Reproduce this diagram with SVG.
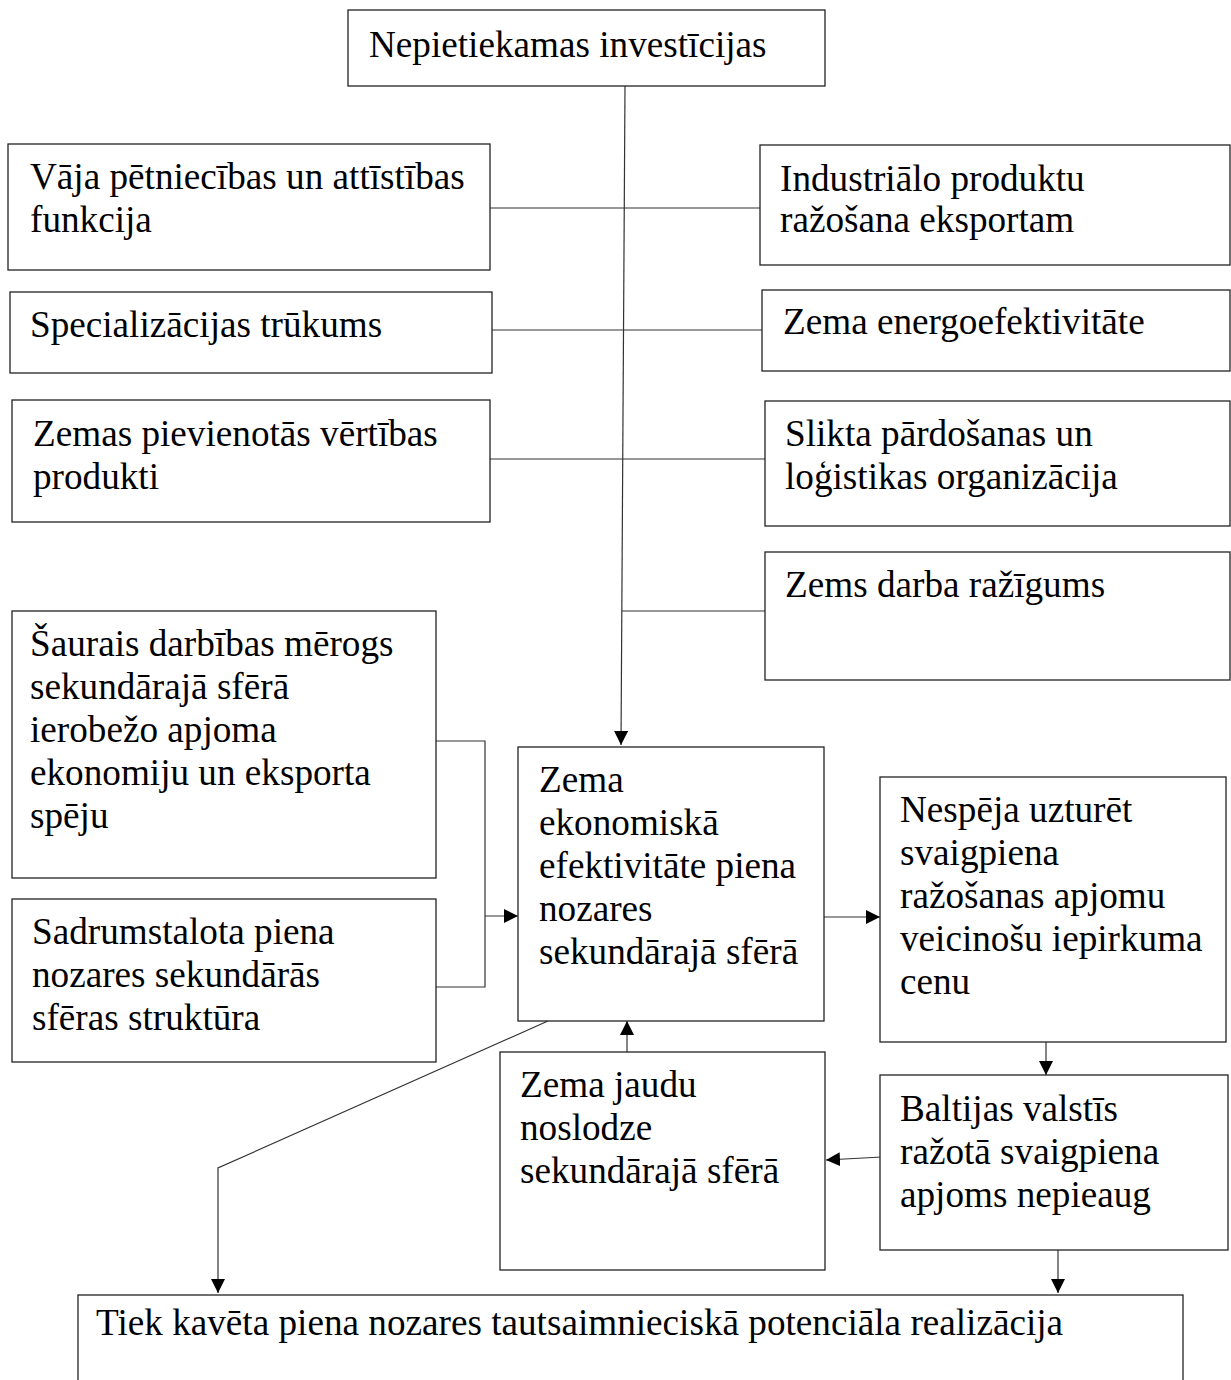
<svg xmlns="http://www.w3.org/2000/svg" width="1231" height="1380" viewBox="0 0 1231 1380">
<style>
.box{fill:#fff;stroke:#222;stroke-width:1.3}
.t{font-family:"Liberation Serif","Times New Roman",serif;font-size:37.2px;fill:#000}
.c{fill:none;stroke:#333;stroke-width:1.2}
</style>
<defs>
<marker id="ah" markerUnits="userSpaceOnUse" markerWidth="15" markerHeight="15" refX="14" refY="7" orient="auto">
<path d="M0,0 L14,7 L0,14 Z" fill="#000"/>
</marker>
</defs>
<rect width="1231" height="1380" fill="#fff"/>
<g id="connectors">
<path class="c" d="M625,86 L621,745" marker-end="url(#ah)"/>
<path class="c" d="M490,208 L760,208"/>
<path class="c" d="M492,330 L762,330"/>
<path class="c" d="M490,459 L765,459"/>
<path class="c" d="M622,611 L765,611"/>
<path class="c" d="M436,741 L485,741 L485,987 L436,987"/>
<path class="c" d="M485,916 L518,916" marker-end="url(#ah)"/>
<path class="c" d="M824,917 L880,917" marker-end="url(#ah)"/>
<path class="c" d="M1046,1042 L1046,1075" marker-end="url(#ah)"/>
<path class="c" d="M882,1157 L826,1160" marker-end="url(#ah)"/>
<path class="c" d="M627,1052 L627,1021" marker-end="url(#ah)"/>
<path class="c" d="M548,1021 L218,1168 L218,1293" marker-end="url(#ah)"/>
<path class="c" d="M1058,1250 L1058,1293" marker-end="url(#ah)"/>
</g>
<g id="n1"><rect class="box" x="348" y="10" width="477" height="76"/><text class="t" x="369" y="57">Nepietiekamas investīcijas</text></g>
<g id="n2"><rect class="box" x="8" y="144" width="482" height="126"/><text class="t" x="30" y="189">Vāja pētniecības un attīstības</text><text class="t" x="30" y="232">funkcija</text></g>
<g id="n3"><rect class="box" x="10" y="292" width="482" height="81"/><text class="t" x="30" y="337">Specializācijas trūkums</text></g>
<g id="n4"><rect class="box" x="12" y="400" width="478" height="122"/><text class="t" x="33" y="446">Zemas pievienotās vērtības</text><text class="t" x="33" y="489">produkti</text></g>
<g id="n5"><rect class="box" x="760" y="145" width="470" height="120"/><text class="t" x="780" y="191">Industriālo produktu</text><text class="t" x="780" y="232">ražošana eksportam</text></g>
<g id="n6"><rect class="box" x="762" y="290" width="468" height="81"/><text class="t" x="783" y="334">Zema energoefektivitāte</text></g>
<g id="n7"><rect class="box" x="765" y="401" width="465" height="125"/><text class="t" x="785" y="446">Slikta pārdošanas un</text><text class="t" x="785" y="489">loģistikas organizācija</text></g>
<g id="n8"><rect class="box" x="765" y="552" width="465" height="128"/><text class="t" x="785" y="597">Zems darba ražīgums</text></g>
<g id="n9"><rect class="box" x="12" y="611" width="424" height="267"/><text class="t" x="30" y="656">Šaurais darbības mērogs</text><text class="t" x="30" y="699">sekundārajā sfērā</text><text class="t" x="30" y="742">ierobežo apjoma</text><text class="t" x="30" y="785">ekonomiju un eksporta</text><text class="t" x="30" y="828">spēju</text></g>
<g id="n10"><rect class="box" x="12" y="899" width="424" height="163"/><text class="t" x="32" y="944">Sadrumstalota piena</text><text class="t" x="32" y="987">nozares sekundārās</text><text class="t" x="32" y="1030">sfēras struktūra</text></g>
<g id="n11"><rect class="box" x="518" y="747" width="306" height="274"/><text class="t" x="539" y="792">Zema</text><text class="t" x="539" y="835">ekonomiskā</text><text class="t" x="539" y="878">efektivitāte piena</text><text class="t" x="539" y="921">nozares</text><text class="t" x="539" y="964">sekundārajā sfērā</text></g>
<g id="n12"><rect class="box" x="880" y="777" width="346" height="265"/><text class="t" x="900" y="822">Nespēja uzturēt</text><text class="t" x="900" y="865">svaigpiena</text><text class="t" x="900" y="908">ražošanas apjomu</text><text class="t" x="900" y="951">veicinošu iepirkuma</text><text class="t" x="900" y="994">cenu</text></g>
<g id="n13"><rect class="box" x="500" y="1052" width="325" height="218"/><text class="t" x="520" y="1097">Zema jaudu</text><text class="t" x="520" y="1140">noslodze</text><text class="t" x="520" y="1183">sekundārajā sfērā</text></g>
<g id="n14"><rect class="box" x="880" y="1075" width="348" height="175"/><text class="t" x="900" y="1121">Baltijas valstīs</text><text class="t" x="900" y="1164">ražotā svaigpiena</text><text class="t" x="900" y="1207">apjoms nepieaug</text></g>
<g id="n15"><rect class="box" x="78" y="1295" width="1105" height="110"/><text class="t" x="96" y="1335">Tiek kavēta piena nozares tautsaimnieciskā potenciāla realizācija</text></g>
</svg>
